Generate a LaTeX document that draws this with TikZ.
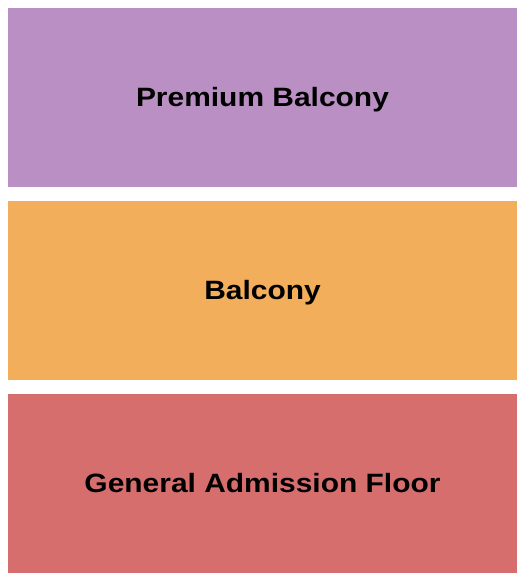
\documentclass[tikz,border=0pt]{standalone}
\usepackage{fontspec}
\setmainfont{Liberation Sans}
\newfontfamily\seatfont[FakeStretch=1.13]{Liberation Sans}
\usetikzlibrary{positioning}
\definecolor{premiumPurple}{HTML}{BA8FC3}
\definecolor{balconyOrange}{HTML}{F2AE5A}
\definecolor{floorRed}{HTML}{D76E6E}
\begin{document}
\begin{tikzpicture}[x=1pt, y=-1pt]
    \useasboundingbox (0,0) rectangle (525,580);
    \tikzset{section/.style={inner sep=0pt, minimum width=509pt, minimum height=179pt, text height=18pt, text depth=0pt, font=\seatfont\fontsize{26.5}{30}\selectfont\bfseries}}
    \node[section, fill=premiumPurple] (premium) at (262.5, 97.5) {Premium Balcony};
    \node[section, fill=balconyOrange, below=14pt of premium] (balcony) {Balcony};
    \node[section, fill=floorRed, below=13pt of balcony] (floor) {General Admission Floor};
\end{tikzpicture}
\end{document}
